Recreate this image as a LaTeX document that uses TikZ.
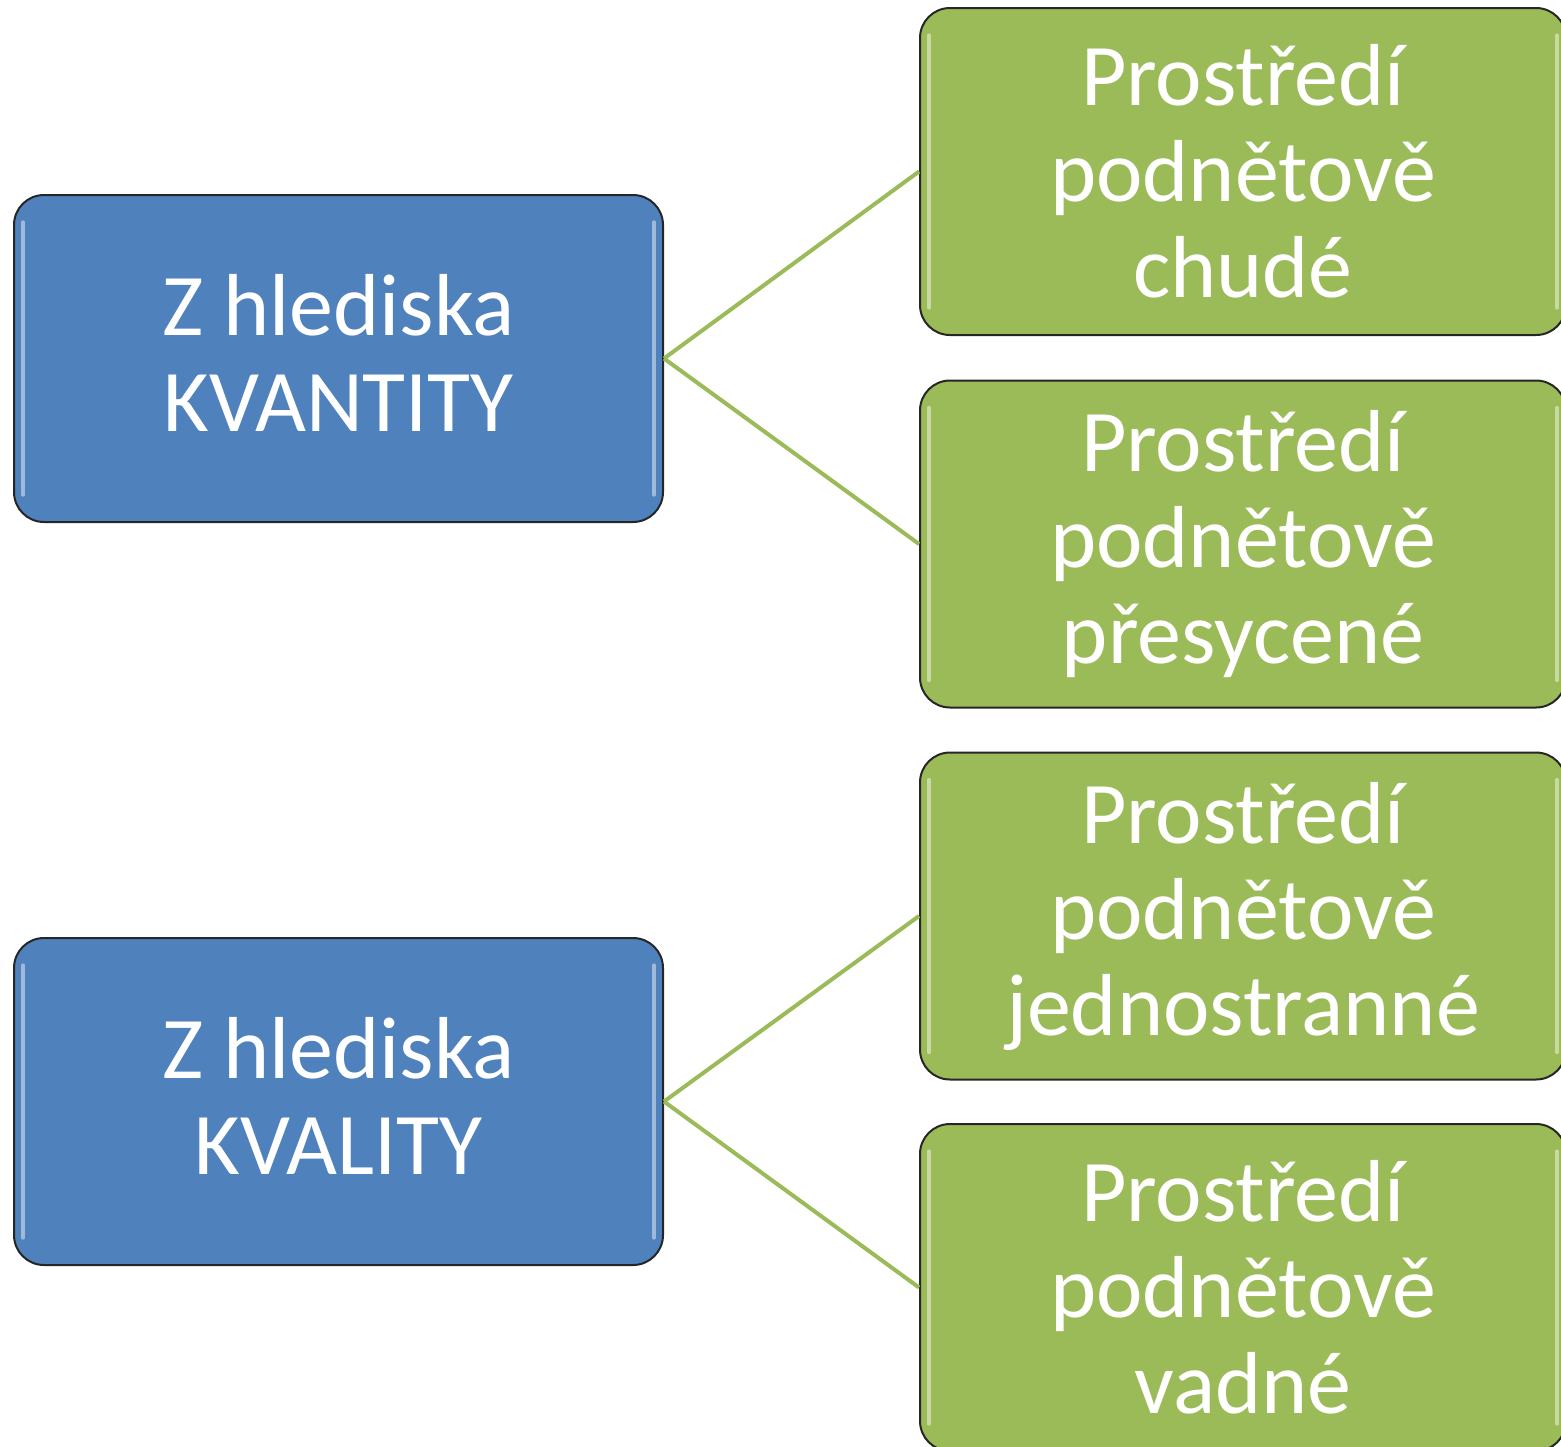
\documentclass[tikz,border=0pt]{standalone}
\usepackage{fontspec}
\setmainfont{Carlito}
\definecolor{boxblue}{HTML}{4F81BD}
\definecolor{boxgreen}{HTML}{9BBB59}
\begin{document}
\begin{tikzpicture}[x=0.5pt,y=-0.5pt,
  base/.style={rounded corners=15pt, draw=black!85, line width=1pt, text=white,
    align=center, font=\fontsize{44}{48}\selectfont, inner sep=0pt},
  bluebox/.style={base, fill=boxblue, minimum width=324.5pt, minimum height=163.5pt},
  greenbox/.style={base, fill=boxgreen, minimum width=323pt, minimum height=163.5pt},
  conn/.style={draw=boxgreen, line width=2pt},
  gloss/.style={draw=white, opacity=0.45, line width=1.6pt, line cap=round}]
\useasboundingbox (0,0) rectangle (1561,1446);
\begin{scope}
\clip (0,0) rectangle (1561,1446);
\node[bluebox, text depth=6pt] (b1) at (338.5,358.5) {Z hlediska\\KVANTITY};
\node[bluebox, text depth=6pt] (b2) at (338.5,1101.5) {Z hlediska\\KVALITY};
\node[greenbox] (g1) at (1243,171.5) {Prostředí\\podnětově\\chudé};
\node[greenbox] (g2) at (1243,544) {Prostředí\\podnětově\\přesycené};
\node[greenbox] (g3) at (1243,916) {Prostředí\\podnětově\\jednostranné};
\node[greenbox] (g4) at (1243,1287.5) {Prostředí\\podnětově\\vadné};
\foreach \n in {b1,b2,g1,g2,g3,g4}{
  \draw[gloss] ([xshift=5pt,yshift=-14pt]\n.north west) -- ([xshift=5pt,yshift=14pt]\n.south west);
  \draw[gloss] ([xshift=-5pt,yshift=-14pt]\n.north east) -- ([xshift=-5pt,yshift=14pt]\n.south east);
}
\draw[conn] (b1.east) -- (g1.west);
\draw[conn] (b1.east) -- (g2.west);
\draw[conn] (b2.east) -- (g3.west);
\draw[conn] (b2.east) -- (g4.west);
\end{scope}
\end{tikzpicture}
\end{document}
